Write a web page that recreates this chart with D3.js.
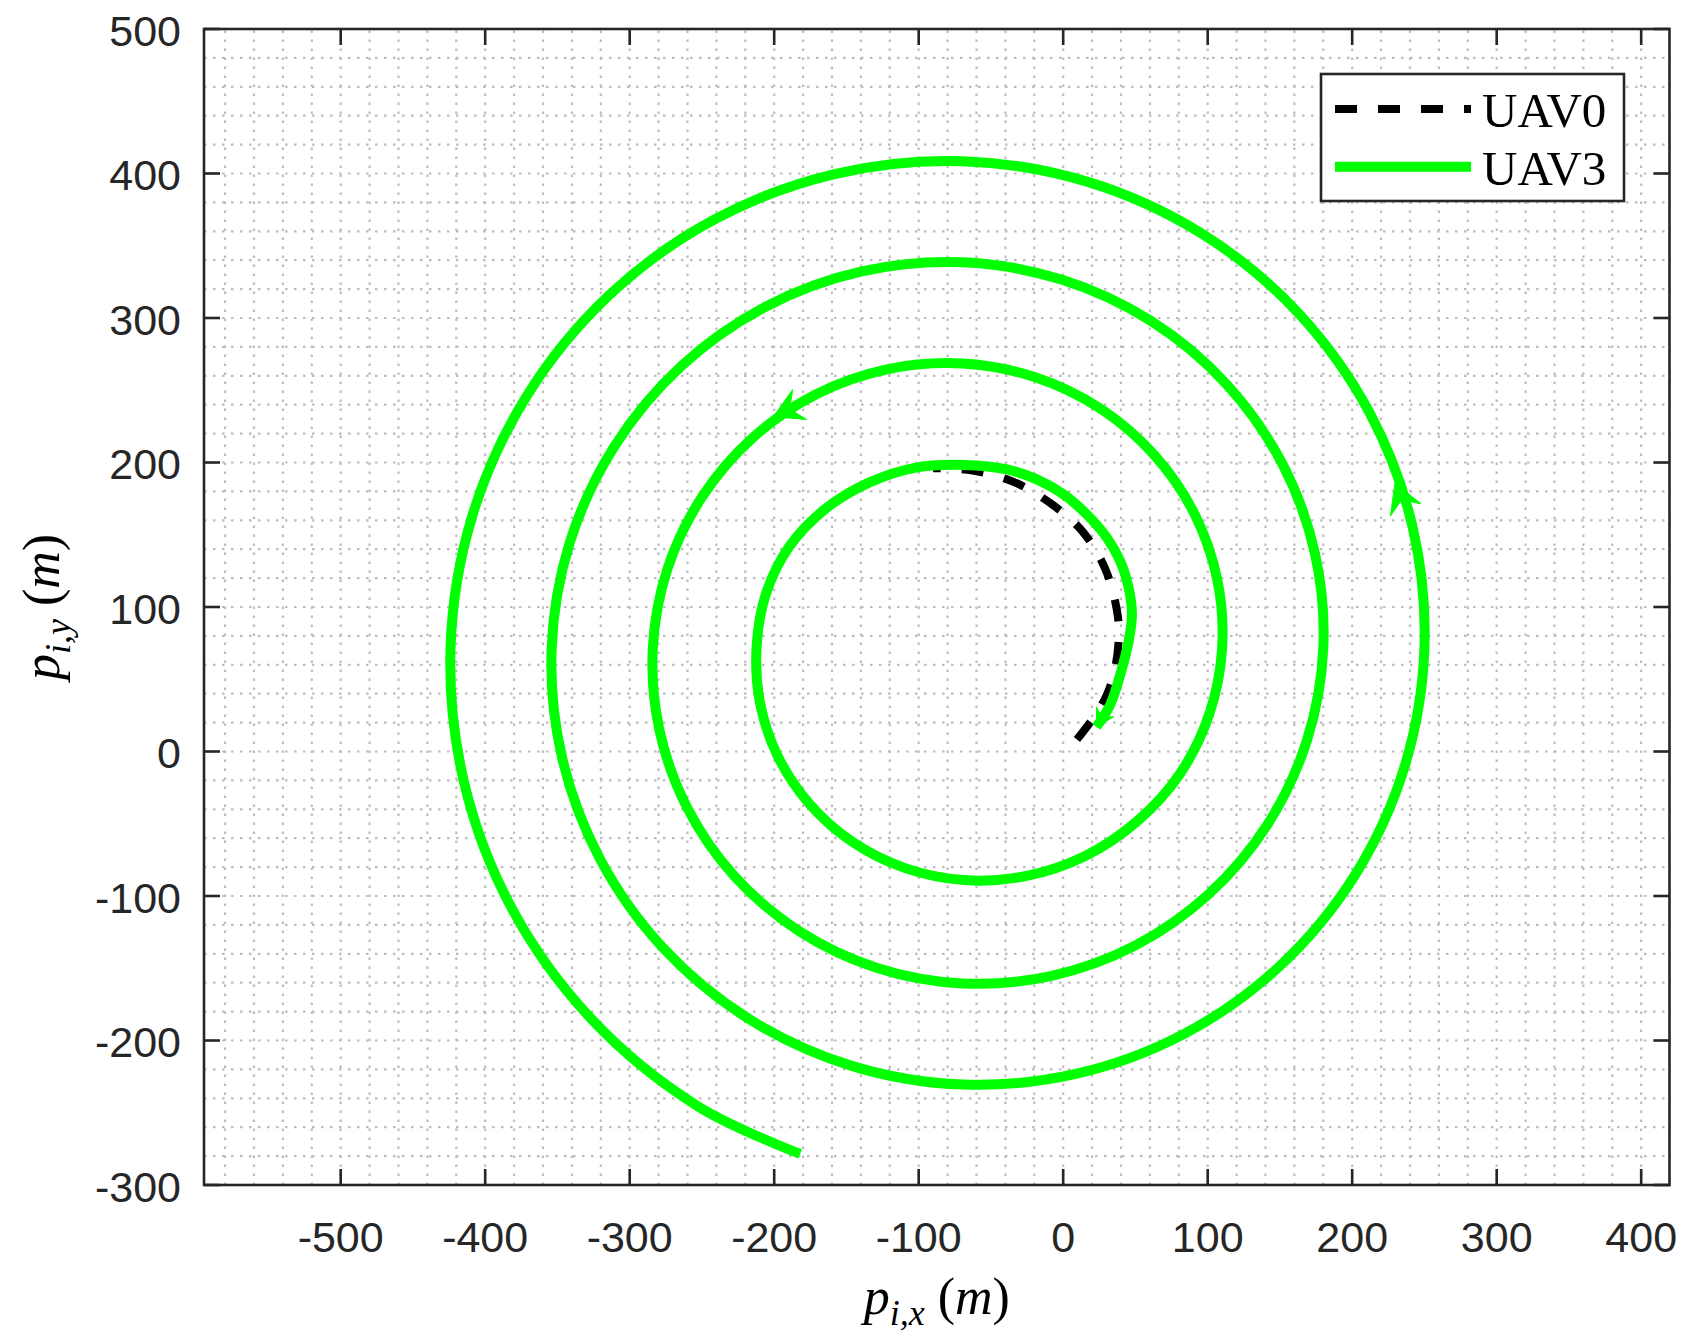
<!DOCTYPE html>
<html><head><meta charset="utf-8">
<script src="https://cdn.jsdelivr.net/npm/d3@7"></script>
<style>html,body{margin:0;padding:0;background:#fff}</style>
</head><body>
<svg id="chart" width="1687" height="1339"></svg>
<script>
// ---------------- data ----------------
const xTicks = [-500, -400, -300, -200, -100, 0, 100, 200, 300, 400];
const xTickLabels = ["-500", "-400", "-300", "-200", "-100", "0", "100", "200", "300", "400"];
const yTicks = [-300, -200, -100, 0, 100, 200, 300, 400, 500];
const yTickLabels = ["-300", "-200", "-100", "0", "100", "200", "300", "400", "500"];
const xRange = [-594.6, 419.6];
const yRange = [-300, 500];
const seriesNames = ["UAV0", "UAV3"];

// UAV0 (leader) trajectory
const uav0X = [9.5, 20, 30.3, 36, 38.5, 37.2, 29.1, 13.6, -8.5, -34.4, -62.7, -90];
const uav0Y = [8.3, 22, 39.4, 58, 80, 97.6, 126.4, 152, 171.6, 186.6, 194.5, 196];

// UAV3 trajectory
const uav3X = [23, 32.6, 39.5, 45.3, 47.6, 45.3, 39.5, 30.3, 16.4, 0.3, -18.2, -39.0, -68.5,
  -101.9, -134.4, -164.5, -189.5, -205.8, -212.2, -209.9, -197.8, -176.1, -146.1,
  -109.4, -68.5, -26.1, 14.9, 51.5, 80.9, 101.1,
  110.0, 106.7, 91.0, 63.6, 26.1, -19.3, -69.5, -121.2, -170.9, -215.0, -250.2, -273.9,
  -284.0, -279.5, -260.3, -227.4, -182.6, -128.8, -69.5, -8.7, 49.4, 100.7, 141.5, 168.7,
  180.0, 174.3, 151.6, 113.1, 61.1, -1.2, -69.5, -139.4, -205.9, -264.5, -310.8, -341.5,
  -354.0, -347.1, -320.9, -276.9, -217.6, -146.9, -69.5, 9.4, 84.4, 150.2, 202.1, 236.3,
  250.0, 241.9, 212.2, 162.6, 96.1, 17.0, -69.5, -157.5, -240.9, -314.0, -371.4, -409.1,
  -424.0, -414.7, -381.5, -326.3, -252.6, -182.0];
const uav3Y = [17, 32.5, 53.3, 76.3, 94.8, 113.3, 131.7, 147.9, 164.0, 177.9, 188.3, 195.2, 198.3,
  196.5, 186.1, 168.0, 141.9, 108.8, 72.0, 34.1, -2.7, -35.6, -62.4,
  -80.7, -89.0, -86.3, -72.5, -48.0, -15.3, 25.8,
  71.5, 118.7, 164.2, 204.6, 237.1, 259.0, 268.5, 264.6, 247.2, 217.0, 175.8, 126.3,
  71.5, 15.2, -38.7, -86.4, -124.4, -149.8, -160.5, -155.4, -134.5, -98.7, -50.3, 7.7,
  71.5, 136.8, 199.2, 254.1, 297.7, 326.6, 338.5, 332.2, 307.8, 266.5, 210.8, 144.4,
  71.5, -2.9, -73.7, -135.9, -185.0, -217.4, -230.5, -223.0, -195.1, -148.2, -85.3, -10.4,
  71.5, 154.9, 234.2, 303.6, 358.3, 394.2, 408.5, 399.8, 368.4, 316.0, 245.8, 162.5,
  71.5, -21.0, -108.7, -185.3, -245.6, -278.5];

// direction arrows on UAV3 (tip position and heading, data units)
const arrowX = [-200.6, 229.6, 23];
const arrowY = [231.7, 185.8, 17];
const arrowDX = [-0.907, -0.371, -0.5];
const arrowDY = [-0.42, 0.928, -0.87];
const arrowSize = [1, 1, 0.6];

// ---------------- layout ----------------
const W = 1687, H = 1339;
const L = 204, R = 1669.5, T = 29, B = 1185;
const axisColor = "#262626";
const svg = d3.select("#chart");

const x = d3.scaleLinear().domain(xRange).range([L, R]);
const y = d3.scaleLinear().domain(yRange).range([B, T]);

svg.append("rect").attr("width", W).attr("height", H).attr("fill", "#fff");

// grid (every 20 units, dotted)
const gridG = svg.append("g").attr("stroke", "#bdbdbd").attr("stroke-width", 2.2).attr("stroke-dasharray", "2.5,6.5");
const gx = d3.range(Math.ceil(xRange[0] / 20) * 20, xRange[1], 20);
const gy = d3.range(yRange[0] + 20, yRange[1], 20);
gridG.selectAll("line.gx").data(gx).join("line").attr("class", "gx")
  .attr("x1", d => x(d)).attr("x2", d => x(d)).attr("y1", B).attr("y2", T);
gridG.selectAll("line.gy").data(gy).join("line").attr("class", "gy")
  .attr("x1", L).attr("x2", R).attr("y1", d => y(d)).attr("y2", d => y(d));

// series
const line = d3.line().x(d => x(d[0])).y(d => y(d[1])).curve(d3.curveCatmullRom.alpha(0.5));
const uav0 = uav0X.map((v, i) => [v, uav0Y[i]]);
const uav3 = uav3X.map((v, i) => [v, uav3Y[i]]);

svg.append("path").datum(uav0).attr("d", line).attr("fill", "none")
  .attr("stroke", "#000").attr("stroke-width", 8).attr("stroke-dasharray", "22,21");
svg.append("path").datum(uav3).attr("d", line).attr("fill", "none")
  .attr("stroke", "#00ff00").attr("stroke-width", 10).attr("stroke-linejoin", "round");

// arrowheads
arrowX.forEach((ax, i) => {
  const tx = x(ax), ty = y(arrowY[i]);
  let ux = arrowDX[i], uy = -arrowDY[i];
  const n = Math.hypot(ux, uy); ux /= n; uy /= n;
  const s = arrowSize[i];
  const Ln = 29 * s, Wd = 16.5 * s, Nt = 18 * s;
  const px = -uy, py = ux;
  const pts = [
    [tx, ty],
    [tx - Ln * ux + Wd * px, ty - Ln * uy + Wd * py],
    [tx - Nt * ux, ty - Nt * uy],
    [tx - Ln * ux - Wd * px, ty - Ln * uy - Wd * py]
  ];
  svg.append("polygon").attr("points", pts.map(p => p.join(",")).join(" "))
    .attr("fill", "#00ff00").attr("stroke", "#00ff00").attr("stroke-width", 1);
});

// axes box
svg.append("rect").attr("x", L).attr("y", T).attr("width", R - L).attr("height", B - T)
  .attr("fill", "none").attr("stroke", axisColor).attr("stroke-width", 2.6);

// ticks (inward, all four sides)
const tickLen = 16;
const tg = svg.append("g").attr("stroke", axisColor).attr("stroke-width", 2.6);
xTicks.forEach(v => {
  tg.append("line").attr("x1", x(v)).attr("x2", x(v)).attr("y1", B).attr("y2", B - tickLen);
  tg.append("line").attr("x1", x(v)).attr("x2", x(v)).attr("y1", T).attr("y2", T + tickLen);
});
yTicks.forEach(v => {
  tg.append("line").attr("x1", L).attr("x2", L + tickLen).attr("y1", y(v)).attr("y2", y(v));
  tg.append("line").attr("x1", R).attr("x2", R - tickLen).attr("y1", y(v)).attr("y2", y(v));
});

// tick labels
const lblFont = "'Liberation Sans', Arial, Helvetica, sans-serif";
svg.append("g").selectAll("text").data(xTicks).join("text")
  .attr("x", d => x(d)).attr("y", B + 66.5).attr("text-anchor", "middle")
  .attr("font-family", lblFont).attr("font-size", 43).attr("fill", axisColor)
  .text((d, i) => xTickLabels[i]);
svg.append("g").selectAll("text").data(yTicks).join("text")
  .attr("x", L - 23).attr("y", d => y(d) + 16.5).attr("text-anchor", "end")
  .attr("font-family", lblFont).attr("font-size", 43).attr("fill", axisColor)
  .text((d, i) => yTickLabels[i]);

// axis titles (math style)
const serif = "'Liberation Serif', 'Times New Roman', serif";
function mathLabel(g, sub) {
  const t = g.append("text").attr("font-family", serif).attr("font-size", 52).attr("fill", "#000")
    .attr("text-anchor", "middle").attr("xml:space", "preserve");
  t.append("tspan").attr("font-style", "italic").text("p");
  t.append("tspan").attr("font-style", "italic").attr("font-size", 36).attr("dy", 11).text(sub);
  t.append("tspan").attr("dy", -11).text(" (");
  t.append("tspan").attr("font-style", "italic").text("m");
  t.append("tspan").text(")");
  return t;
}
mathLabel(svg.append("g").attr("transform", `translate(${(L + R) / 2},1314)`), "i,x");
mathLabel(svg.append("g").attr("transform", `translate(59,${(T + B) / 2}) rotate(-90)`), "i,y");

// legend
const lg = svg.append("g");
lg.append("rect").attr("x", 1321).attr("y", 74).attr("width", 303).attr("height", 127)
  .attr("fill", "#fff").attr("stroke", axisColor).attr("stroke-width", 2.6);
const legStyles = [
  {stroke: "#000", w: 8, dash: "22,21"},
  {stroke: "#00ff00", w: 10, dash: null}
];
seriesNames.forEach((name, i) => {
  const yy = 109 + i * 57.7;
  const l = lg.append("line").attr("x1", 1335).attr("x2", 1471).attr("y1", yy).attr("y2", yy)
    .attr("stroke", legStyles[i].stroke).attr("stroke-width", legStyles[i].w);
  if (legStyles[i].dash) l.attr("stroke-dasharray", legStyles[i].dash);
  lg.append("text").attr("x", 1482).attr("y", yy + 18).attr("font-family", serif)
    .attr("font-size", 49).attr("fill", "#000").text(name);
});
</script>
</body></html>
